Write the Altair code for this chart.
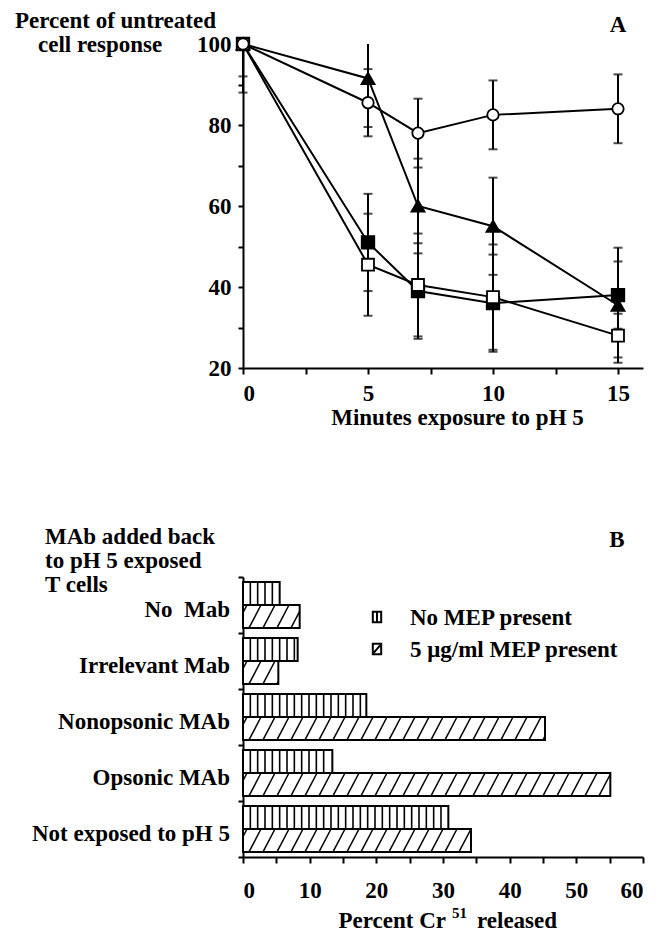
import altair as alt
import pandas as pd

FONT = "Liberation Serif"
FS = 23

# ---------------- Panel A data ----------------
minutes = [0, 5, 7, 10, 15]
series_names = ["filled triangle", "filled square", "open square", "open circle"]
triangle_y = [100, 91.5, 60, 55, 35.5]
triangle_err = [0, 12, 11.7, 12, 14.2]
fsquare_y = [100, 51, 39, 36, 38]
fsquare_err = [12, 12, 11.8, 12, 8.3]
osquare_y = [100, 45.5, 40.5, 37.5, 28]
osquare_err = [0, 12.6, 12.7, 13, 5.4]
circle_y = [100, 85.5, 78, 82.5, 84]
circle_err = [8, 8.3, 8.5, 8.5, 8.5]
x_ticks_a = [0, 2.5, 5, 7.5, 10, 12.5, 15]
y_ticks_a = [20, 30, 40, 50, 60, 70, 80, 90, 100]
y_title_a = ["Percent of untreated", "cell response"]
x_title_a = "Minutes exposure to pH 5"

# ---------------- Panel B data ----------------
categories = ["No\u00a0\u00a0Mab", "Irrelevant Mab", "Nonopsonic MAb", "Opsonic MAb", "Not exposed to pH 5"]
no_mep = [5.5, 8.2, 18.5, 13.4, 30.8]
mep5 = [8.5, 5.3, 45.3, 55.1, 34.2]
bar_series = ["No MEP present", "5 \u03bcg/ml MEP present"]
x_ticks_b = [0, 5, 10, 15, 20, 25, 30, 35, 40, 45, 50, 55, 60]
b_heading = ["MAb added back", "to pH 5 exposed", "T cells"]

# ---------------- tables ----------------
rows_a = []
for name, ys, es in zip(series_names,
                        [triangle_y, fsquare_y, osquare_y, circle_y],
                        [triangle_err, fsquare_err, osquare_err, circle_err]):
    for m, v, e in zip(minutes, ys, es):
        rows_a.append({"series": name, "minute": m, "y": v, "err": e})
dfA = pd.DataFrame(rows_a)

rows_b = []
for i, c in enumerate(categories):
    for s, vals in enumerate([no_mep, mep5]):
        rows_b.append({"cat": c, "idx": i, "series": bar_series[s], "sidx": s, "value": vals[i]})
dfB = pd.DataFrame(rows_b)

WA, HA = 400, 324
WB, HB = 400, 280

txt = dict(font=FONT, fontSize=FS, fontWeight="bold", color="black")

# ---------------- Panel A ----------------
sxA = alt.Scale(domain=[0, 16], nice=False, zero=False)
syA = alt.Scale(domain=[20, 100], nice=False, zero=False)
axA_x = alt.Axis(values=x_ticks_a, labelExpr="datum.value % 5 == 0 ? datum.label : ''",
                 tickSize=6, labelPadding=8, labelOverlap=False, title=x_title_a,
                 titlePadding=1, titleX=214, titleFontSize=FS, titleFont=FONT, titleFontWeight="bold")
axA_y = alt.Axis(values=y_ticks_a, labelExpr="datum.value % 20 == 0 ? datum.label : ''",
                 tickSize=5, labelPadding=7, labelOverlap=False, title=None)

XA = lambda f: alt.X(f, scale=sxA, axis=axA_x, title=x_title_a)
YA = lambda f: alt.Y(f, scale=syA, axis=axA_y, title=None)

baseA = alt.Chart(dfA)
linesA = baseA.mark_line(color="black", strokeWidth=2).encode(
    x=XA("minute:Q"), y=YA("y:Q"), detail="series:N", order="minute:Q")

errA = baseA.transform_filter("datum.err > 0").transform_calculate(
    lo="datum.y - datum.err", hi="min(datum.y + datum.err, 100)"
).mark_rule(color="black", strokeWidth=2).encode(
    x=XA("minute:Q"), y=YA("lo:Q"), y2="hi:Q")

capsA = baseA.transform_filter("datum.err > 0").transform_calculate(
    lo="datum.y - datum.err", hi="datum.y + datum.err"
).transform_fold(["lo", "hi"], as_=["end", "ey"]).transform_filter(
    "datum.ey <= 100.5"
).mark_tick(orient="horizontal", size=9, thickness=2, color="black").encode(
    x=XA("minute:Q"), y=YA("ey:Q"))

pointsA = baseA.mark_point(filled=True, stroke="black", strokeWidth=1.8, opacity=1).encode(
    x=XA("minute:Q"), y=YA("y:Q"),
    shape=alt.Shape("series:N", scale=alt.Scale(domain=series_names,
                    range=["triangle-up", "square", "square", "circle"]), legend=None),
    fill=alt.Fill("series:N", scale=alt.Scale(domain=series_names,
                  range=["black", "black", "white", "white"]), legend=None),
    size=alt.Size("series:N", scale=alt.Scale(domain=series_names,
                  range=[170, 130, 130, 150]), legend=None))

ytA1 = alt.Chart(pd.DataFrame({"t": [y_title_a[0]]})).mark_text(align="left", baseline="alphabetic", **txt).encode(
    text="t:N", x=alt.value(-228), y=alt.value(-16))
ytA2 = alt.Chart(pd.DataFrame({"t": [y_title_a[1]]})).mark_text(align="left", baseline="alphabetic", **txt).encode(
    text="t:N", x=alt.value(-205), y=alt.value(8))
labA = alt.Chart(pd.DataFrame({"t": ["A"]})).mark_text(align="center", baseline="alphabetic", **txt).encode(
    text="t:N", x=alt.value(375), y=alt.value(-12))

chartA = alt.layer(linesA, errA, capsA, pointsA, ytA1, ytA2, labA).properties(width=WA, height=HA)

# ---------------- Panel B ----------------
PAD, H = 0.09, 0.41
DX, DSTEP, VSTEP = 1.8, 2.1, 1.1
sxB = alt.Scale(domain=[0, 60], nice=False, zero=False)
syB = alt.Scale(domain=[0, 5], nice=False, zero=False, reverse=True)
axB_x = alt.Axis(values=x_ticks_b, labelExpr="datum.value % 10 == 0 ? datum.label : ''",
                 tickSize=6, labelPadding=16, labelOverlap=False, title=None)
axB_y = alt.Axis(values=[0, 1, 2, 3, 4, 5], labels=False, tickSize=5, title=None)

XB = lambda f: alt.X(f, scale=sxB, axis=axB_x, title=None)
YB = lambda f: alt.Y(f, scale=syB, axis=axB_y, title=None)

ycalc = dict(yt=f"datum.idx + {PAD} + datum.sidx * {H}", yb=f"datum.idx + {PAD} + datum.sidx * {H} + {H}")
baseB = alt.Chart(dfB)

barsB = baseB.transform_calculate(x0="0", **ycalc).mark_rect(
    fill="white", stroke="black", strokeWidth=2).encode(
    x=XB("x0:Q"), x2="value:Q", y=YB("yt:Q"), y2="yb:Q")

vhatch = baseB.transform_filter("datum.sidx == 0").transform_calculate(
    hx=f"sequence({VSTEP}, datum.value - 0.35, {VSTEP})", **ycalc
).transform_flatten(["hx"]).mark_rule(color="black", strokeWidth=1.6).encode(
    x=XB("hx:Q"), y=YB("yt:Q"), y2="yb:Q")

dhatch = baseB.transform_filter("datum.sidx == 1").transform_calculate(
    xb=f"sequence(-1.2, datum.value, {DSTEP})", **ycalc
).transform_flatten(["xb"]).transform_calculate(
    t0=f"max(0, -datum.xb / {DX})", t1=f"min(1, (datum.value - datum.xb) / {DX})"
).transform_filter("datum.t1 - datum.t0 > 0.05").transform_calculate(
    xa=f"datum.xb + datum.t0 * {DX}", ya=f"datum.yb - datum.t0 * {H}",
    xc=f"datum.xb + datum.t1 * {DX}", yc=f"datum.yb - datum.t1 * {H}"
).mark_rule(color="black", strokeWidth=1.5).encode(
    x=XB("xa:Q"), x2="xc:Q", y=YB("ya:Q"), y2="yc:Q")

catlab = baseB.transform_filter("datum.sidx == 0").transform_calculate(
    yc="datum.idx + 0.5").mark_text(align="right", baseline="middle", dy=5, **txt).encode(
    text="cat:N", x=alt.value(-13), y=YB("yc:Q"))

# legend (drawn as symbols + text)
legend_paths = ["M-0.8,-1H0.8V1H-0.8Z M0,-1V1", "M-0.8,-1H0.8V1H-0.8Z M-0.6,0.7L0.6,-0.7"]
legend_rows_y = [40, 72]
legend_layers = []
for name, pth, yy in zip(bar_series, legend_paths, legend_rows_y):
    d = pd.DataFrame({"t": [name]})
    legend_layers.append(alt.Chart(d).mark_point(shape=pth, size=110, filled=False, fill="white",
                                                 stroke="black", strokeWidth=2, opacity=1).encode(
        x=alt.value(134), y=alt.value(yy)))
    legend_layers.append(alt.Chart(d).mark_text(align="left", baseline="alphabetic", **txt).encode(
        text="t:N", x=alt.value(167), y=alt.value(yy + 8)))

headB = [alt.Chart(pd.DataFrame({"t": [t]})).mark_text(align="left", baseline="alphabetic", **txt).encode(
    text="t:N", x=alt.value(-198), y=alt.value(yy)) for t, yy in zip(b_heading, [-33, -9, 15])]
labB = alt.Chart(pd.DataFrame({"t": ["B"]})).mark_text(align="center", baseline="alphabetic", **txt).encode(
    text="t:N", x=alt.value(374), y=alt.value(-30))

xt1 = alt.Chart(pd.DataFrame({"t": ["Percent Cr"]})).mark_text(align="right", baseline="alphabetic", **txt).encode(
    text="t:N", x=alt.value(203), y=alt.value(HB + 71))
xt2 = alt.Chart(pd.DataFrame({"t": ["51"]})).mark_text(align="left", baseline="alphabetic", font=FONT, fontSize=15,
                                                       fontWeight="bold", color="black").encode(
    text="t:N", x=alt.value(209), y=alt.value(HB + 61))
xt3 = alt.Chart(pd.DataFrame({"t": ["released"]})).mark_text(align="left", baseline="alphabetic", **txt).encode(
    text="t:N", x=alt.value(234), y=alt.value(HB + 71))

chartB = alt.layer(barsB, vhatch, dhatch, catlab, *legend_layers, *headB, labB, xt1, xt2, xt3).properties(
    width=WB, height=HB)

chart = alt.vconcat(chartA, chartB, spacing=97).properties(
    padding={"left": 15, "top": 10, "right": 5, "bottom": 5}
).configure_view(stroke=None).configure_axis(
    labelFont=FONT, labelFontSize=FS, labelFontWeight="bold", labelColor="black",
    domainColor="black", tickColor="black", domainWidth=2, tickWidth=2, grid=False
)

chart.save("out.html", embed_options={"renderer": "svg", "actions": False})
